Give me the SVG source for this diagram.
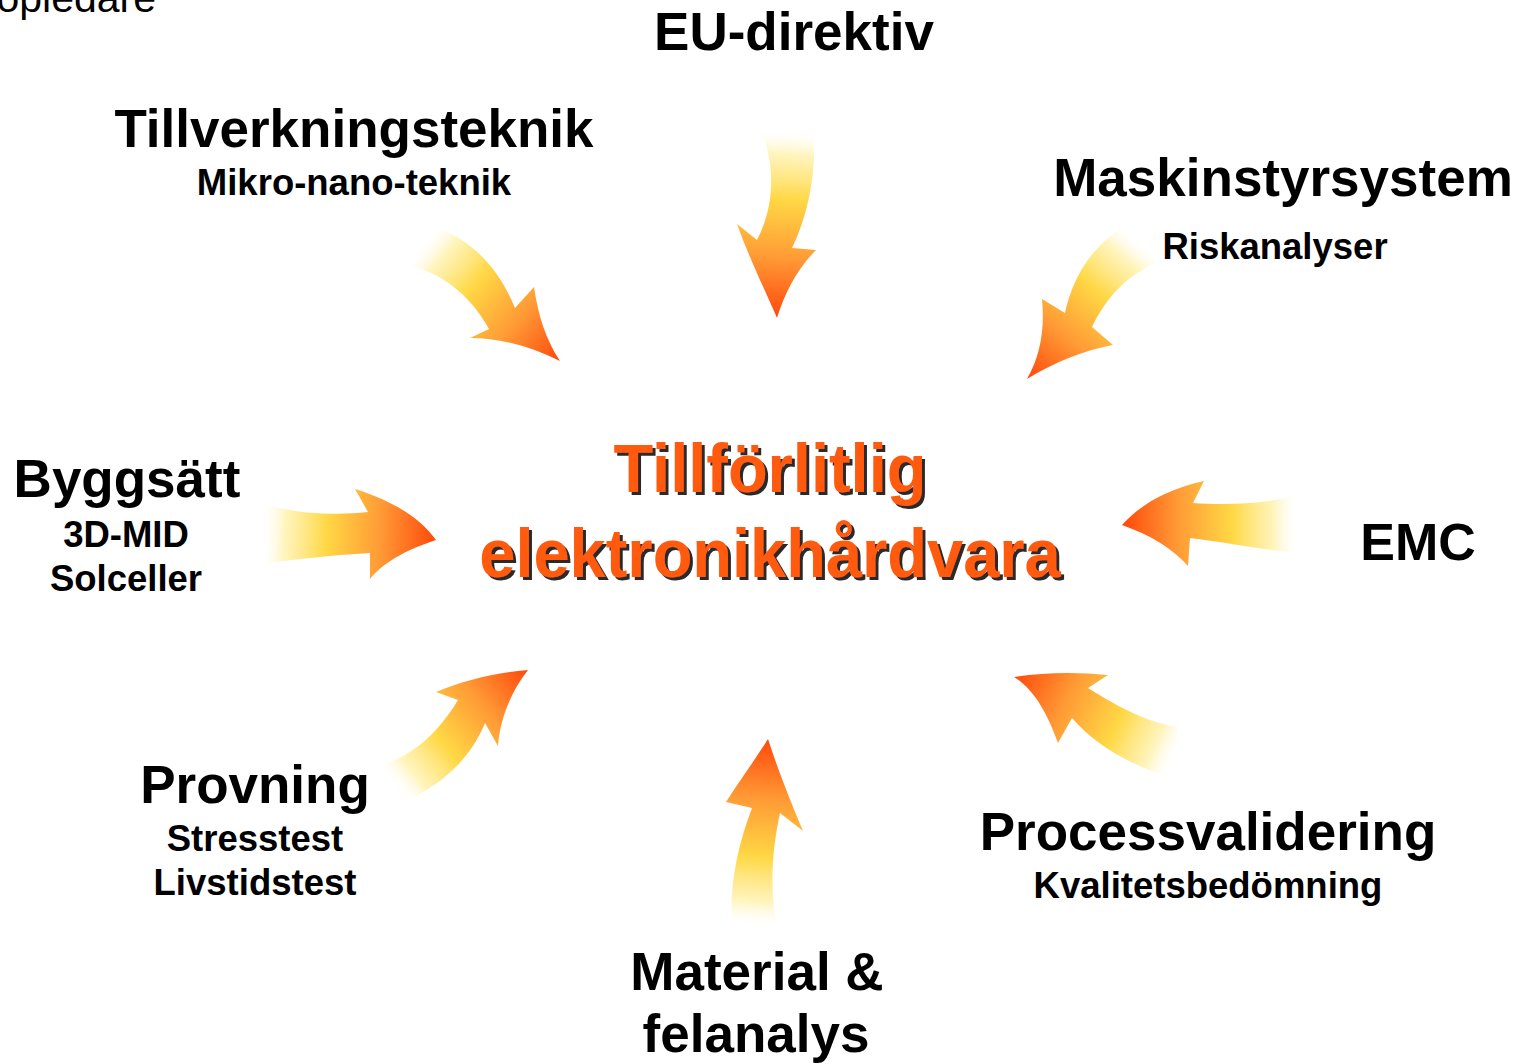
<svg xmlns="http://www.w3.org/2000/svg" xmlns:xlink="http://www.w3.org/1999/xlink" width="1520" height="1064" viewBox="0 0 1520 1064">
<style>
.h{font-family:"Liberation Sans",Arial,sans-serif;font-weight:bold;font-size:53px;fill:#000;text-anchor:middle}
.s{font-family:"Liberation Sans",Arial,sans-serif;font-weight:bold;font-size:36.5px;fill:#000;text-anchor:middle}
.c{font-family:"Liberation Sans",Arial,sans-serif;font-weight:bold;font-size:65px;text-anchor:middle;fill:#ff5a0e;filter:url(#shadow)}
.arr{stroke:none}
</style>
<defs>
<filter id="shadow" x="-5%" y="-10%" width="110%" height="130%">
<feOffset in="SourceAlpha" dx="3" dy="3" result="o"/>
<feFlood flood-color="#2a2a2a"/>
<feComposite in2="o" operator="in" result="sh"/>
<feMerge><feMergeNode in="sh"/><feMergeNode in="SourceGraphic"/></feMerge>
</filter>
<linearGradient id="g">
<stop offset="0" stop-color="#fffbe8" stop-opacity="0.1"/>
<stop offset="0.12" stop-color="#fff2b0" stop-opacity="0.85"/>
<stop offset="0.36" stop-color="#ffd845"/>
<stop offset="0.68" stop-color="#ff9a35"/>
<stop offset="1" stop-color="#ff4a0c"/>
</linearGradient>
<linearGradient id="gA" href="#g" xlink:href="#g" gradientUnits="userSpaceOnUse" x1="423" y1="247" x2="559" y2="360"/>
<linearGradient id="gB" href="#g" xlink:href="#g" gradientUnits="userSpaceOnUse" x1="788" y1="133" x2="777" y2="317"/>
<linearGradient id="gC" href="#g" xlink:href="#g" gradientUnits="userSpaceOnUse" x1="1141" y1="245" x2="1028" y2="378"/>
<linearGradient id="gD" href="#g" xlink:href="#g" gradientUnits="userSpaceOnUse" x1="265" y1="533" x2="435" y2="540"/>
<linearGradient id="gE" href="#g" xlink:href="#g" gradientUnits="userSpaceOnUse" x1="1294" y1="525" x2="1123" y2="525"/>
<linearGradient id="gF" href="#g" xlink:href="#g" gradientUnits="userSpaceOnUse" x1="393" y1="780" x2="527" y2="671"/>
<linearGradient id="gG" href="#g" xlink:href="#g" gradientUnits="userSpaceOnUse" x1="753" y1="923" x2="768" y2="740"/>
<linearGradient id="gH" href="#g" xlink:href="#g" gradientUnits="userSpaceOnUse" x1="1175" y1="752" x2="1015" y2="677"/>
</defs>
<rect width="1520" height="1064" fill="#fff"/>

<g id="connectors">
<path id="arrow-tillverkning" class="arr" fill="url(#gA)" d="M 435,227 C 468,238 497,264 515,308 L 534,287 C 538,315 546,340 560,361 C 530,346 500,338 470,338 L 489,329 C 473,300 448,276 412,266 Z"/>
<path id="arrow-eu" class="arr" fill="url(#gB)" d="M 762,133 C 775,165 775,205 757,240 L 737,224 C 750,260 765,290 777,318 C 785,292 798,268 816,250 L 792,248 C 808,215 816,175 814,133 Z"/>
<path id="arrow-maskin" class="arr" fill="url(#gC)" d="M 1123,227 C 1094,245 1073,275 1065,313 L 1042,299 C 1045,330 1040,356 1027,379 C 1055,362 1085,350 1113,345 L 1092,327 C 1105,300 1125,276 1158,262 Z"/>
<path id="arrow-bygg" class="arr" fill="url(#gD)" d="M 264,504 C 300,515 340,515 368,512 L 355,489 C 395,502 420,518 436,540 C 412,548 385,560 370,579 L 370,553 C 330,555 295,560 264,563 Z"/>
<path id="arrow-emc" class="arr" fill="url(#gE)" d="M 1294,496 C 1260,505 1220,505 1193,503 L 1204,481 C 1165,490 1140,505 1122,525 C 1150,535 1172,548 1188,566 L 1190,538 C 1230,543 1265,550 1296,553 Z"/>
<path id="arrow-provning" class="arr" fill="url(#gF)" d="M 382,765 C 415,755 440,730 458,700 L 436,692 C 465,680 495,673 528,670 C 512,690 500,718 498,746 L 485,723 C 470,760 440,786 404,802 Z"/>
<path id="arrow-material" class="arr" fill="url(#gG)" d="M 732,924 C 729,885 738,845 752,808 L 726,802 C 740,780 755,760 768,739 C 778,770 790,800 803,831 L 780,813 C 772,850 770,885 776,924 Z"/>
<path id="arrow-process" class="arr" fill="url(#gH)" d="M 1014,677 C 1045,672 1078,672 1108,675 L 1088,688 C 1115,705 1145,722 1178,727 L 1174,779 C 1130,765 1095,745 1072,718 L 1058,743 C 1048,715 1035,690 1014,677 Z"/>
</g>

<g id="corner-label">
<text x="156" y="12" font-family="Liberation Sans, Arial, sans-serif" font-size="41" text-anchor="end" fill="#000">opledare</text>
</g>

<g id="node-center">
<text class="c" x="770" y="492" transform="translate(0,-25) scale(1,1.05)">Tillförlitlig</text>
<text class="c" x="770" y="577" transform="translate(0,-29) scale(1,1.05)">elektronikhårdvara</text>
</g>

<g id="node-eu"><text class="h" x="794" y="50">EU-direktiv</text></g>
<g id="node-tillverkning">
<text class="h" x="354" y="147">Tillverkningsteknik</text>
<text class="s" x="354" y="195">Mikro-nano-teknik</text>
</g>
<g id="node-maskin">
<text class="h" x="1283" y="196">Maskinstyrsystem</text>
<text class="s" x="1275" y="259">Riskanalyser</text>
</g>
<g id="node-bygg">
<text class="h" x="127" y="497">Byggsätt</text>
<text class="s" x="126" y="547">3D-MID</text>
<text class="s" x="126" y="591">Solceller</text>
</g>
<g id="node-emc"><text class="h" x="1418" y="560" style="font-size:52px">EMC</text></g>
<g id="node-provning">
<text class="h" x="255" y="803">Provning</text>
<text class="s" x="255" y="851">Stresstest</text>
<text class="s" x="255" y="895">Livstidstest</text>
</g>
<g id="node-process">
<text class="h" x="1208" y="850">Processvalidering</text>
<text class="s" x="1208" y="898">Kvalitetsbedömning</text>
</g>
<g id="node-material">
<text class="h" x="757" y="990">Material &amp;</text>
<text class="h" x="756" y="1052">felanalys</text>
</g>
</svg>
